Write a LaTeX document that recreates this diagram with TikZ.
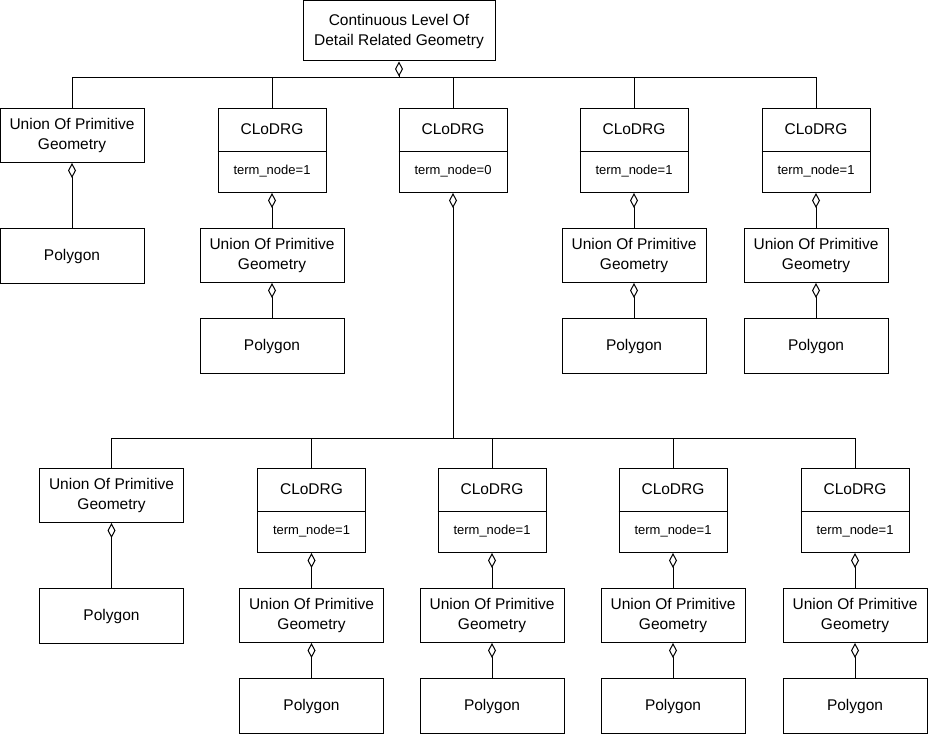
\documentclass[tikz,border=0pt]{standalone}
\usepackage{fontspec}
\setmainfont{Liberation Sans}
\usetikzlibrary{arrows.meta}
\tikzset{
  box/.style={draw, line width=1pt, inner sep=0pt, align=center, anchor=north,
              font=\fontsize{15.5}{20}\selectfont},
  topbox/.style={box, minimum width=192pt, minimum height=60pt},
  ubox/.style={box, minimum width=144pt, minimum height=54pt},
  pbox/.style={box, minimum width=144pt, minimum height=55pt},
  cbox/.style={draw, line width=1pt, inner sep=0pt, anchor=north, minimum width=108pt, minimum height=84pt},
  ctext/.style={inner sep=0pt, font=\fontsize{15.5}{20}\selectfont},
  atext/.style={inner sep=0pt, font=\fontsize{13}{16}\selectfont},
  conn/.style={line width=1pt},
  agg/.style={line width=1pt, {Diamond[open,length=15pt,width=8pt,line width=1pt]}-}
}
\newcommand{\clodbox}[4]{% name, x, y(top), value
  \node[cbox] (#1) at (#2,#3) {};
  \draw[conn] ([yshift=-43pt]#1.north west) -- ([yshift=-43pt]#1.north east);
  \node[ctext] (#1t) at ([yshift=-21.5pt]#1.north) {CLoDRG};
  \node[atext] (#1a) at ([yshift=-63pt]#1.north) {term\_node=#4};
}
\begin{document}
\begin{tikzpicture}[x=1pt,y=-1pt]
\useasboundingbox (0,0) rectangle (928,733);
% top
\node[topbox] (top) at (399,0.5) {Continuous Level Of\\Detail Related Geometry};
\coordinate (bus1) at (0,78);
\coordinate (bus2) at (0,438);
% row 1
\node[ubox] (u1) at (72,108) {Union Of Primitive\\Geometry};
\node[pbox] (p1) at (72,228) {Polygon};
\clodbox{c2}{272}{108}{1}
\clodbox{c3}{453}{108}{0}
\clodbox{c4}{634}{108}{1}
\clodbox{c5}{816}{108}{1}
\node[ubox] (u2) at (272,228) {Union Of Primitive\\Geometry};
\node[pbox] (p2) at (272,318) {Polygon};
\node[ubox] (u4) at (634,228) {Union Of Primitive\\Geometry};
\node[pbox] (p4) at (634,318) {Polygon};
\node[ubox] (u5) at (816,228) {Union Of Primitive\\Geometry};
\node[pbox] (p5) at (816,318) {Polygon};
% row 2
\node[ubox] (u6) at (111.5,468) {Union Of Primitive\\Geometry};
\node[pbox] (p6) at (111.5,588) {Polygon};
\clodbox{c7}{311.5}{468}{1}
\clodbox{c8}{492}{468}{1}
\clodbox{c9}{673}{468}{1}
\clodbox{c10}{855}{468}{1}
\node[ubox] (u7) at (311.5,588) {Union Of Primitive\\Geometry};
\node[pbox] (p7) at (311.5,678) {Polygon};
\node[ubox] (u8) at (492,588) {Union Of Primitive\\Geometry};
\node[pbox] (p8) at (492,678) {Polygon};
\node[ubox] (u9) at (673,588) {Union Of Primitive\\Geometry};
\node[pbox] (p9) at (673,678) {Polygon};
\node[ubox] (u10) at (855,588) {Union Of Primitive\\Geometry};
\node[pbox] (p10) at (855,678) {Polygon};
% top tree
\draw[agg] (top.south) -- (top.south |- bus1);
\draw[conn] (u1.north) -- (u1.north |- bus1) -- (c5.north |- bus1) -- (c5.north);
\foreach \n in {c2,c3,c4} \draw[conn] (\n.north) -- (\n.north |- bus1);
% row 1 chains
\draw[agg] (u1.south) -- (p1.north);
\draw[agg] (c2.south) -- (u2.north);
\draw[agg] (u2.south) -- (p2.north);
\draw[agg] (c4.south) -- (u4.north);
\draw[agg] (u4.south) -- (p4.north);
\draw[agg] (c5.south) -- (u5.north);
\draw[agg] (u5.south) -- (p5.north);
% second tree
\draw[agg] (c3.south) -- (c3.south |- bus2);
\draw[conn] (u6.north) -- (u6.north |- bus2) -- (c10.north |- bus2) -- (c10.north);
\foreach \n in {c7,c8,c9} \draw[conn] (\n.north) -- (\n.north |- bus2);
% row 2 chains
\draw[agg] (u6.south) -- (p6.north);
\foreach \i in {7,8,9,10} {
  \draw[agg] (c\i.south) -- (u\i.north);
  \draw[agg] (u\i.south) -- (p\i.north);
}
\end{tikzpicture}
\end{document}
